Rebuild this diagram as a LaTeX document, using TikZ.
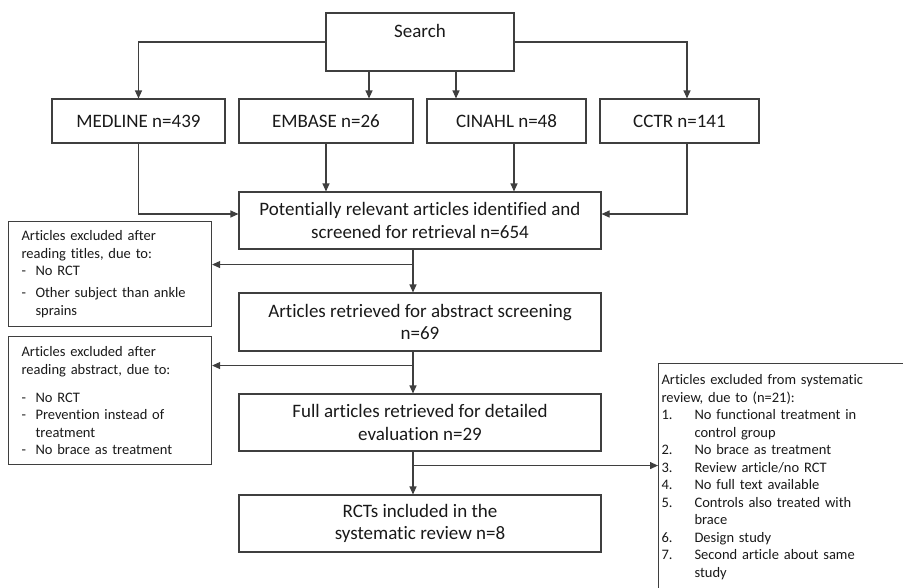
\documentclass[tikz,border=0pt]{standalone}
\usepackage{fontspec}
\setmainfont{Carlito}[Ligatures={NoCommon}]
\usetikzlibrary{arrows.meta,calc}
\definecolor{linegray}{HTML}{3F3F3F}
\newcommand{\bigtext}{\fontsize{19}{22.5}\selectfont}
\newcommand{\smalltext}{\fontsize{14.5}{17.5}\selectfont}
% hanging list entry: label in a fixed-width box, then the entry text
\newcommand{\hitem}[3]{\makebox[#1][l]{#2}#3}

\begin{document}
\begin{tikzpicture}[x=1pt,y=-1pt,
  box/.style={draw=linegray, line width=1.1pt, rectangle, inner sep=0pt,
    align=center, font=\bigtext, text=black!90},
  notebox/.style={draw=linegray, line width=1.1pt, rectangle, align=left,
    font=\smalltext, text=black!90, anchor=north west},
  arr/.style={draw=linegray, line width=1.1pt, -{Triangle[length=8pt,width=7pt]}}]
\useasboundingbox (0,0) rectangle (903,587);

% search and databases
\node[box, minimum width=188, minimum height=58] (search) at (420,42) {Search\\\mbox{}};
\node[box, minimum width=173, minimum height=44] (med) at (138.5,121) {MEDLINE n=439};
\node[box, minimum width=174, minimum height=44] (emb) at (326,121) {EMBASE n=26};
\node[box, minimum width=159, minimum height=44] (cin) at (506.5,121) {CINAHL n=48};
\node[box, minimum width=159, minimum height=44] (cctr) at (679.5,121) {CCTR n=141};

% main flow
\node[box, minimum width=362, minimum height=57] (pot) at (420,220.5)
  {Potentially relevant articles identified and\\screened for retrieval n=654};
\node[box, minimum width=362, minimum height=58] (ret) at (420,322)
  {Articles retrieved for abstract screening\\n=69};
\node[box, minimum width=362, minimum height=57] (full) at (420,422.5)
  {Full articles retrieved for detailed\\evaluation n=29};
\node[box, minimum width=362, minimum height=57] (rct) at (420,523.5)
  {RCTs included in the\\systematic review n=8};

% exclusion notes
\node[notebox, text width=177, inner xsep=13, minimum height=105] (ex1) at (8,221)
  {Articles excluded after\\
   reading titles, due to:\\
   \hitem{14pt}{-}{No RCT}\\[4.5pt]
   \hitem{14pt}{-}{Other subject than ankle}\\
   \hspace*{14pt}sprains};
\node[notebox, text width=177, inner xsep=13, minimum height=128] (ex2) at (8,336)
  {Articles excluded after\\
   reading abstract, due to:\\[10.5pt]
   \hitem{14pt}{-}{No RCT}\\
   \hitem{14pt}{-}{Prevention instead of}\\
   \hspace*{14pt}treatment\\
   \hitem{14pt}{-}{No brace as treatment}};
\node[notebox, text width=270, inner xsep=3, inner ysep=11] (ex3) at (658,363)
  {Articles excluded from systematic\\
   review, due to (n=21):\\
   \hitem{33pt}{1.}{No functional treatment in}\\
   \hspace*{33pt}control group\\
   \hitem{33pt}{2.}{No brace as treatment}\\
   \hitem{33pt}{3.}{Review article/no RCT}\\
   \hitem{33pt}{4.}{No full text available}\\
   \hitem{33pt}{5.}{Controls also treated with}\\
   \hspace*{33pt}brace\\
   \hitem{33pt}{6.}{Design study}\\
   \hitem{33pt}{7.}{Second article about same}\\
   \hspace*{33pt}study\\[6pt]\mbox{}};

% search to databases
\coordinate (s1) at ([xshift=-51pt]search.south);
\coordinate (s2) at ([xshift=36pt]search.south);
\draw[arr] (search.west) -| (med.north);
\draw[arr] (s1) -- (s1 |- emb.north);
\draw[arr] (s2) -- (s2 |- cin.north);
\draw[arr] (search.east) -| ([xshift=7.5pt]cctr.north);

% databases to pooled records
\coordinate (c1) at ([xshift=7.5pt]cin.south);
\draw[arr] (emb.south) -- (emb.south |- pot.north);
\draw[arr] (c1) -- (c1 |- pot.north);
\draw[arr] (med.south) |- ([yshift=6.5pt]pot.west);
\draw[arr] ([xshift=7.5pt]cctr.south) |- ([yshift=6.5pt]pot.east);

% screening steps with exclusions
\coordinate (p1) at ([xshift=-7pt]pot.south);
\coordinate (j1) at ($(p1)+(0,15)$);
\draw[arr] (p1) -- (p1 |- ret.north);
\draw[arr] (j1) -- (j1 -| ex1.east);

\coordinate (r1) at ([xshift=-7pt]ret.south);
\coordinate (j2) at ($(r1)+(0,14)$);
\draw[arr] (r1) -- (r1 |- full.north);
\draw[arr] (j2) -- (j2 -| ex2.east);

\coordinate (f1) at ([xshift=-7pt]full.south);
\coordinate (j3) at ($(f1)+(0,14)$);
\draw[arr] (f1) -- (f1 |- rct.north);
\draw[arr] (j3) -- (j3 -| ex3.west);
\end{tikzpicture}
\end{document}
